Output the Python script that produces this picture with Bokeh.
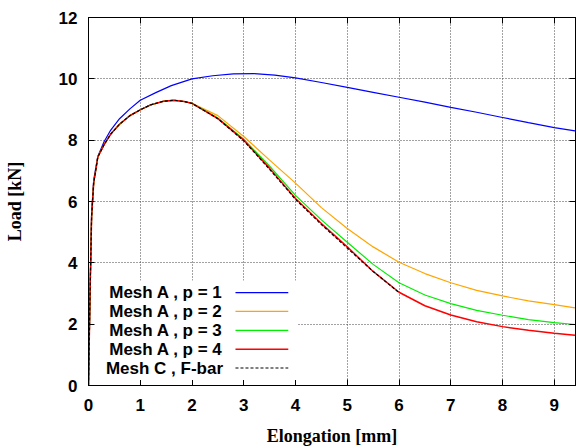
from bokeh.plotting import figure
from bokeh.models import (Range1d, LinearAxis, FixedTicker, CustomJSTickFormatter,
                          BoxAnnotation, Label, Arrow)
from bokeh.embed import file_html
from bokeh.resources import INLINE

# ---------------- data ----------------
x_p1 = [0, 0.03, 0.06, 0.1, 0.18, 0.3, 0.43, 0.6, 0.8, 1.0, 1.3, 1.6, 2.0, 2.4, 2.8,
        3.2, 3.6, 4.0, 4.5, 5.0, 5.5, 6.0, 6.5, 7.0, 7.5, 8.0, 8.5, 9.0, 9.4]
y_p1 = [0, 3.0, 5.6, 6.7, 7.47, 7.95, 8.33, 8.7, 9.02, 9.3, 9.55, 9.78, 10.0, 10.1, 10.16,
        10.17, 10.12, 10.03, 9.88, 9.72, 9.56, 9.4, 9.24, 9.07, 8.91, 8.74, 8.57, 8.41, 8.3]

x_common = [0, 0.03, 0.06, 0.1, 0.18, 0.3, 0.43, 0.6, 0.8, 1.0, 1.2, 1.45, 1.65, 1.85, 2.0]
y_common = [0, 3.0, 5.5, 6.6, 7.45, 7.85, 8.2, 8.52, 8.8, 8.99, 9.15, 9.27, 9.3, 9.26, 9.2]

x_p2 = x_common + [2.5, 3.0, 3.5, 4.0, 4.5, 5.0, 5.5, 6.0, 6.5, 7.0, 7.5, 8.0, 8.5, 9.0, 9.4]
y_p2 = y_common + [8.8, 8.12, 7.35, 6.6, 5.8, 5.12, 4.52, 4.02, 3.65, 3.35, 3.1, 2.92, 2.76, 2.64, 2.53]

x_p3 = x_common + [2.5, 3.0, 3.5, 4.0, 4.5, 5.0, 5.5, 6.0, 6.5, 7.0, 7.5, 8.0, 8.5, 9.0, 9.4]
y_p3 = y_common + [8.72, 8.03, 7.15, 6.2, 5.4, 4.67, 3.95, 3.35, 2.95, 2.67, 2.45, 2.29, 2.15, 2.05, 1.99]

x_p4 = x_common + [2.5, 3.0, 3.5, 4.0, 4.5, 5.0, 5.5, 6.0, 6.5, 7.0, 7.5, 8.0, 8.5, 9.0, 9.4]
y_p4 = y_common + [8.7, 8.0, 7.08, 6.1, 5.28, 4.52, 3.72, 3.04, 2.6, 2.3, 2.08, 1.92, 1.8, 1.7, 1.64]

x_fbar = x_common + [2.5, 3.0, 3.5, 4.0, 4.5, 5.0, 5.5, 6.0]
y_fbar = y_common + [8.7, 7.98, 7.05, 6.07, 5.25, 4.48, 3.72, 3.03]

labels = ["Mesh A , p = 1", "Mesh A , p = 2", "Mesh A , p = 3",
          "Mesh A , p = 4", "Mesh C , F-bar"]
colors = ["#0000ff", "#ffa500", "#00ee00", "#ff0000", "#000000"]
widths = [1.2, 1.2, 1.2, 1.5, 1.2]
dashes = ["solid", "solid", "solid", "solid", "3 2"]
series = [(x_p1, y_p1), (x_p2, y_p2), (x_p3, y_p3), (x_p4, y_p4), (x_fbar, y_fbar)]

x_ticks = [0, 1, 2, 3, 4, 5, 6, 7, 8, 9]
y_ticks = [0, 2, 4, 6, 8, 10, 12]

# ---------------- figure ----------------
TICK_FONT = "Liberation Sans"
p = figure(width=578, height=448, output_backend="svg", toolbar_location=None,
           x_range=Range1d(0, 9.41), y_range=Range1d(0, 12),
           min_border_left=88, min_border_right=3, min_border_top=17,
           min_border_bottom=60)
p.outline_line_color = "black"
p.outline_line_width = 1

for ax in (p.xaxis[0], p.yaxis[0]):
    ax.major_tick_in = 6
    ax.major_tick_out = 0
    ax.minor_tick_line_color = None
    ax.axis_line_color = "black"
    ax.major_label_text_font = TICK_FONT
    ax.major_label_text_font_style = "bold"
    ax.major_label_text_font_size = "17px"
    ax.major_label_text_color = "black"
    ax.axis_label_text_font = "Liberation Serif"
    ax.axis_label_text_font_style = "bold"
    ax.axis_label_text_font_size = "18px"
    ax.axis_label_text_color = "black"

p.xaxis[0].ticker = FixedTicker(ticks=x_ticks)
p.yaxis[0].ticker = FixedTicker(ticks=y_ticks)
p.xaxis[0].axis_label = "Elongation [mm]"
p.yaxis[0].axis_label = "Load [kN]"
p.xaxis[0].major_label_standoff = 13
p.yaxis[0].major_label_standoff = 11
p.xaxis[0].axis_label_standoff = 12
p.yaxis[0].axis_label_standoff = 31

blank = CustomJSTickFormatter(code="return ''")
top = LinearAxis(ticker=FixedTicker(ticks=x_ticks), formatter=blank,
                 major_tick_in=6, major_tick_out=0, minor_tick_line_color=None,
                 major_label_standoff=0, axis_line_color="black")
right = LinearAxis(ticker=FixedTicker(ticks=y_ticks), formatter=blank,
                   major_tick_in=6, major_tick_out=0, minor_tick_line_color=None,
                   major_label_standoff=0, axis_line_color="black")
p.add_layout(top, "above")
p.add_layout(right, "right")

for g in (p.xgrid[0], p.ygrid[0]):
    g.grid_line_color = "#444444"
    g.grid_line_dash = "1 2"
    g.grid_line_width = 1
p.xgrid[0].ticker = FixedTicker(ticks=x_ticks)
p.ygrid[0].ticker = FixedTicker(ticks=y_ticks)

for (xs, ys), c, w, d in zip(series, colors, widths, dashes):
    p.line(xs, ys, line_color=c, line_width=w, line_dash=d)

# ---------------- key (gnuplot style: text right-aligned, sample on the right) ----------------
key_left, key_right, key_bottom, key_top = 0.12, 4.03, 0.18, 3.42
p.add_layout(BoxAnnotation(left=key_left, right=key_right, bottom=key_bottom, top=key_top,
                           fill_color="white", fill_alpha=1.0, line_color=None))
text_x = 2.6
seg_x0, seg_x1 = 2.84, 3.86
row0, row_step = 3.03, 0.615
for i, (lab, c, w, d) in enumerate(zip(labels, colors, widths, dashes)):
    yy = row0 - i * row_step
    p.add_layout(Label(x=text_x, y=yy, text=lab, text_align="right", text_baseline="middle",
                       text_font=TICK_FONT, text_font_style="bold", text_font_size="17px",
                       text_color="black"))
    p.add_layout(Arrow(end=None, x_start=seg_x0, y_start=yy, x_end=seg_x1, y_end=yy,
                       line_color=c, line_width=w, line_dash=d))

open("out.html", "w").write(file_html(p, INLINE))
